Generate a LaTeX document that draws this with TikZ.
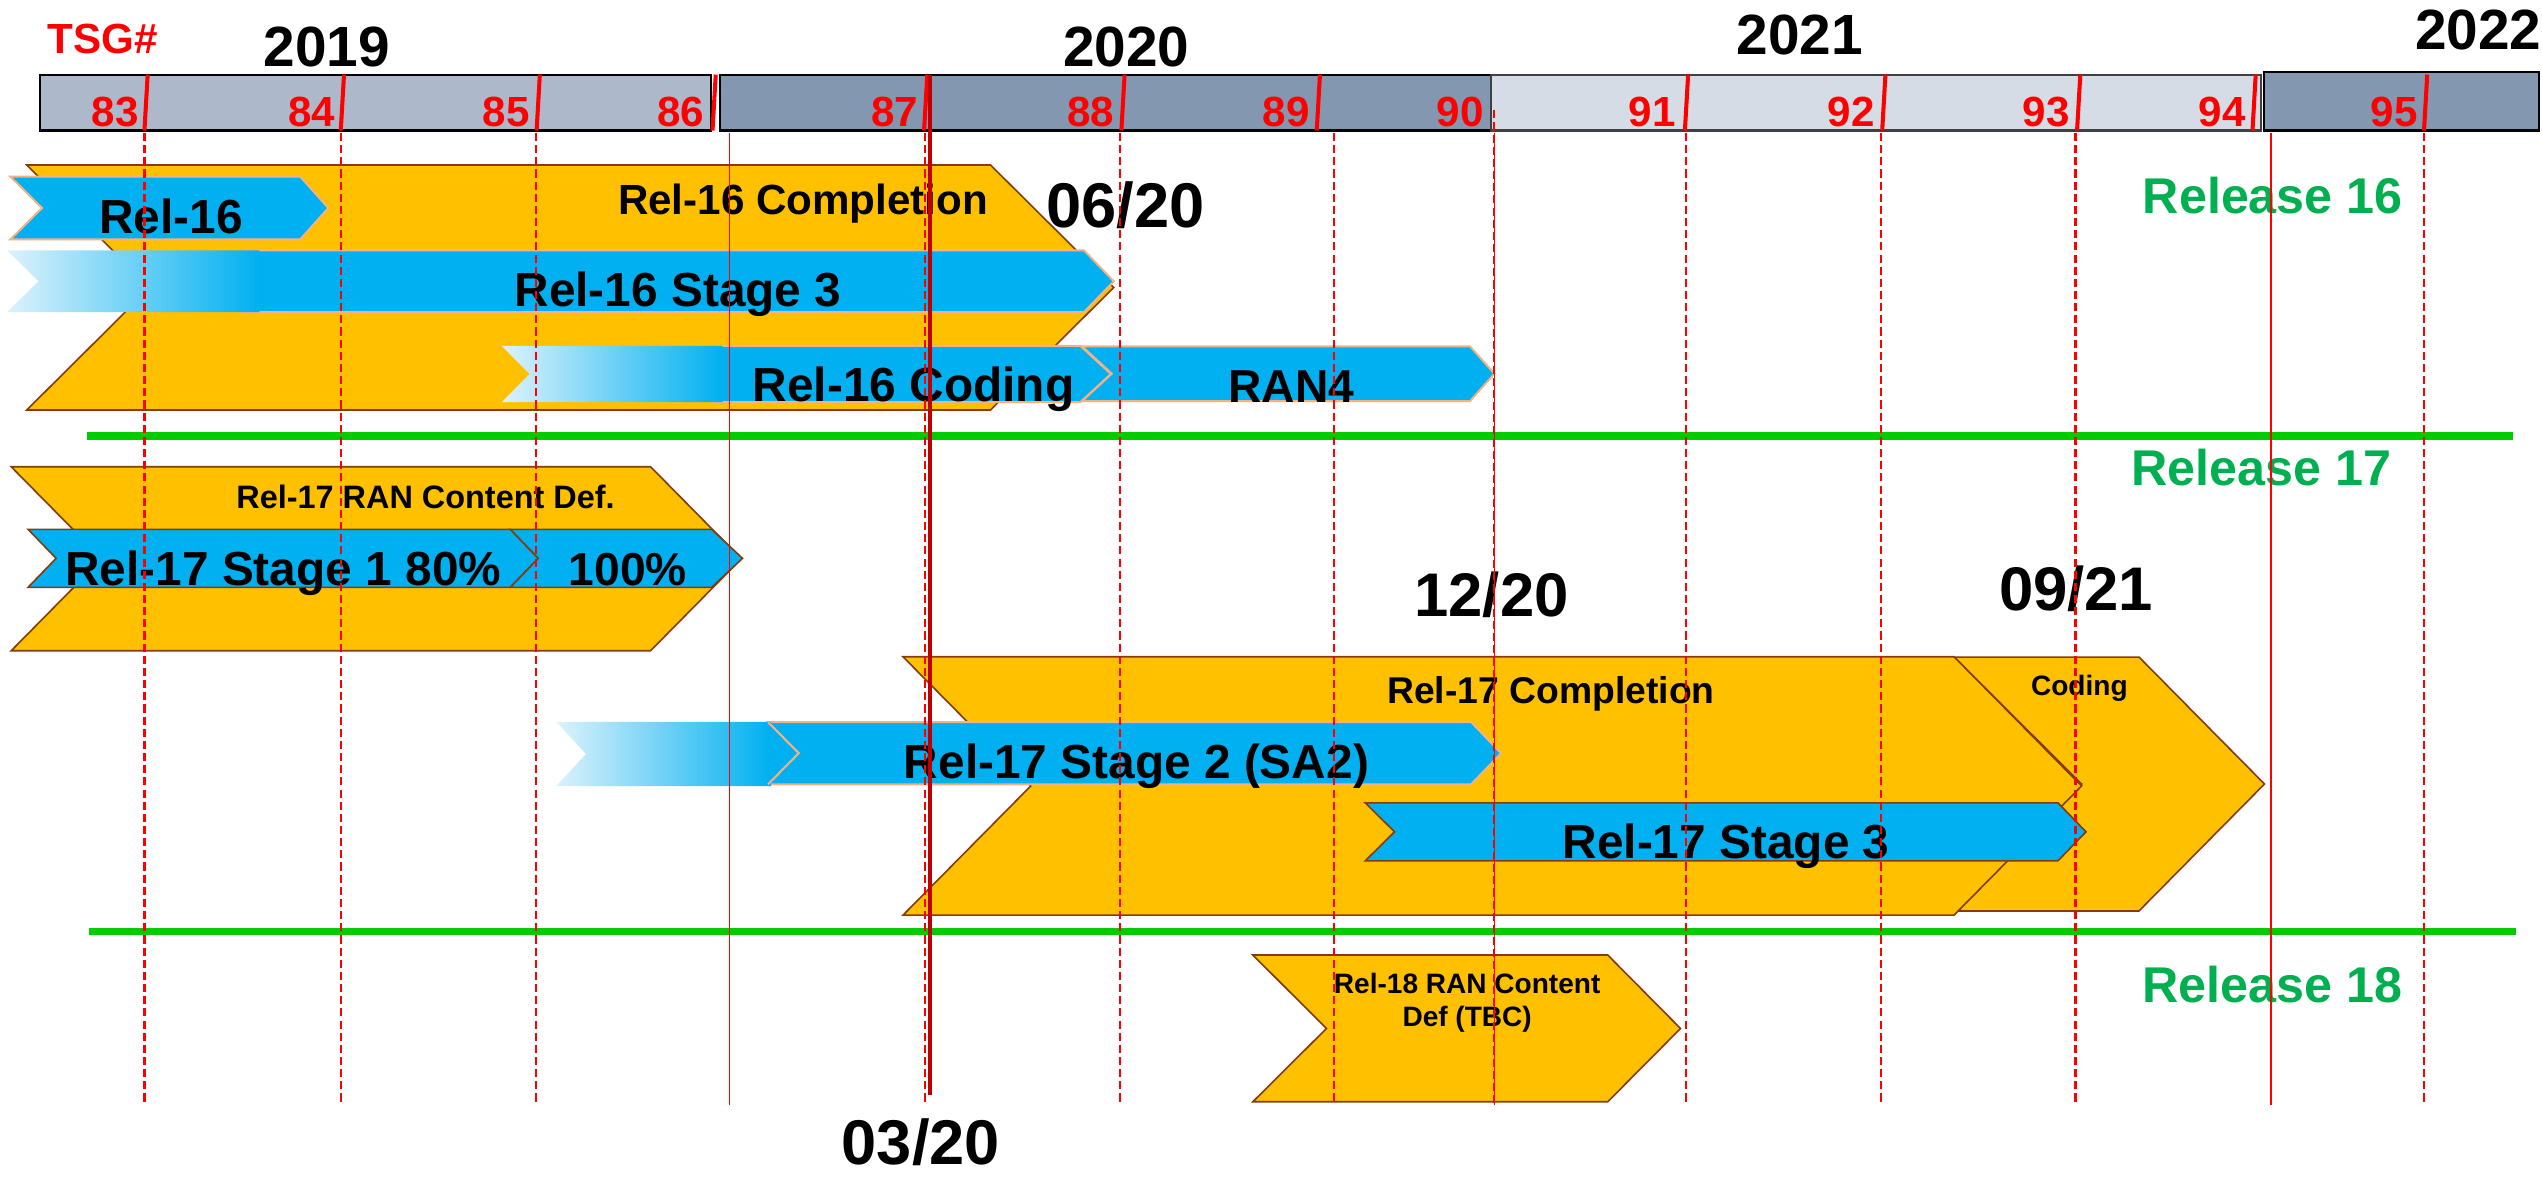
\documentclass[tikz,border=0pt]{standalone}
\usepackage{fontspec}
\setmainfont{Liberation Sans}
\definecolor{cblue}{HTML}{00B0F0}
\definecolor{cyel}{HTML}{FFC000}
\definecolor{cbrown}{HTML}{843C0C}
\definecolor{corange}{HTML}{F4B183}
\definecolor{cfade}{HTML}{DDF2FC}
\definecolor{cseg1}{HTML}{ADB9CA}
\definecolor{cseg2}{HTML}{8497B0}
\definecolor{cseg3}{HTML}{D6DCE5}
\definecolor{cred}{HTML}{FF0000}
\definecolor{cdred}{HTML}{C00000}
\definecolor{cgline}{HTML}{00CC00}
\definecolor{cgtext}{HTML}{00B050}
\begin{document}
\begin{tikzpicture}[x=1pt,y=-1pt,
  yelshape/.style={fill=cyel, draw=cbrown, line width=1pt},
  blueshape/.style={fill=cblue, draw=corange, line width=1.2pt},
  blueshapeb/.style={fill=cblue, draw=cbrown, line width=1pt},
  fadeshape/.style={left color=cfade, middle color=cblue, right color=cblue, draw=none},
  seg/.style={draw=black, line width=1.3pt},
  bartick/.style={draw=cred, line width=2.5pt},
  vdash/.style={draw=cred, line width=1.3pt, dash pattern=on 5pt off 2.5pt},
  vsolid/.style={draw=cred, line width=1.1pt},
  vthick/.style={draw=cdred, line width=2.8pt},
  gline/.style={draw=cgline, line width=4.5pt},
  lbl/.style={inner sep=0pt, anchor=base, font=\bfseries\fontsize{29.5}{32}\selectfont},
  mlbl/.style={inner sep=0pt, anchor=base, font=\bfseries\fontsize{23}{26}\selectfont},
  slbl/.style={inner sep=0pt, anchor=base, font=\bfseries\fontsize{20}{23}\selectfont},
  tlbl/.style={inner sep=0pt, anchor=base, font=\bfseries\fontsize{17.3}{20}\selectfont},
  datelbl/.style={inner sep=0pt, anchor=base, font=\bfseries\fontsize{39}{42}\selectfont},
  yearlbl/.style={inner sep=0pt, anchor=base, font=\bfseries\fontsize{35}{38}\selectfont},
  numlbl/.style={inner sep=0pt, anchor=base east, text=cred, font=\bfseries\fontsize{26}{28}\selectfont},
  rellbl/.style={inner sep=0pt, anchor=base, text=cgtext, font=\bfseries\fontsize{31}{34}\selectfont}]
\useasboundingbox (0,0) rectangle (1568,725.4);

% ---- timeline bar ----
\draw[seg, fill=cseg1] (24.8,46) rectangle (438.7,80.5);
\draw[seg, fill=cseg2] (444,46) rectangle (919.8,80.5);
\draw[seg, fill=cseg3, draw=black!75] (919.8,46) rectangle (1394.8,80.5);
\draw[seg, fill=cseg2] (1396.7,44.5) rectangle (1566.3,80.5);
\foreach \tx in {89.1,210.2,331,439.5,570,691.7,812.2,1039.3,1161,1281.2,1389.4,1495.2}
  \draw[bartick] (\tx,80.5) -- (\tx+2,46);

\node[numlbl] (n83) at (85.7,78.3) {83};
\node[numlbl] (n84) at (207,78.3) {84};
\node[numlbl] (n85) at (327,78.3) {85};
\node[numlbl] (n86) at (434.6,78.3) {86};
\node[numlbl] (n87) at (566.7,78.3) {87};
\node[numlbl] (n88) at (687.6,78.3) {88};
\node[numlbl] (n89) at (808,78.3) {89};
\node[numlbl] (n90) at (915.5,78.3) {90};
\node[numlbl] (n91) at (1033.8,78.3) {91};
\node[numlbl] (n92) at (1156.6,78.3) {92};
\node[numlbl] (n93) at (1276.8,78.3) {93};
\node[numlbl] (n94) at (1385.4,78.3) {94};
\node[numlbl] (n95) at (1491.4,78.3) {95};

\node[inner sep=0pt, anchor=base, text=cred, font=\bfseries\fontsize{26}{28}\selectfont] (tsg) at (63.3,33.3) {TSG\#};
\node[yearlbl] (y2019) at (201.5,41.1) {2019};
\node[yearlbl] (y2020) at (694.8,41) {2020};
\node[yearlbl] (y2021) at (1110.2,33.9) {2021};
\node[yearlbl] (y2022) at (1528.7,30.8) {2022};

% ---- Release 16 ----
\draw[yelshape] (16.5,101.8) -- (611,101.8) -- (687,177.35) -- (611,252.9) -- (16.5,252.9) -- (92.5,177.35) -- cycle;
\draw[blueshape] (6.5,109) -- (185.2,109) -- (202.5,128.3) -- (185.2,147.6) -- (6.5,147.6) -- (26,128.3) -- cycle;
\draw[blueshape] (150,154.4) -- (668.6,154.4) -- (687,173.5) -- (668.6,192.5) -- (150,192.5) -- cycle;
\path[fadeshape] (4.3,154.4) -- (160,154.4) -- (160,192.5) -- (4.3,192.5) -- (23.8,173.5) -- cycle;
\draw[blueshape] (440,213.3) -- (666.3,213.3) -- (685.2,230.7) -- (666.3,248.1) -- (440,248.1) -- cycle;
\path[fadeshape] (309.4,213.3) -- (445.8,213.3) -- (445.8,248.1) -- (309.4,248.1) -- (326.7,230.7) -- cycle;
\draw[blueshape] (667.5,213.6) -- (906.7,213.6) -- (921.8,230.5) -- (906.7,247.4) -- (667.5,247.4) -- (685.8,230.5) -- cycle;

\node[mlbl, font=\bfseries\fontsize{26}{28}\selectfont] (r16c) at (495.4,132.6) {Rel-16 Completion};
\node[lbl] (r16) at (105.6,144) {Rel-16};
\node[lbl] (r16s3) at (418.2,189.2) {Rel-16 Stage 3};
\node[lbl] (r16cod) at (563.5,247.8) {Rel-16 Coding};
\node[lbl, font=\bfseries\fontsize{28.5}{31}\selectfont] (ran4) at (796.5,248.4) {RAN4};
\node[datelbl] (d0620) at (694.1,140.2) {06/20};
\node[rellbl] (rel16) at (1401.9,131.6) {Release 16};

% ---- Release 17 ----
\draw[yelshape] (6.9,287.9) -- (401.3,287.9) -- (457.3,344.65) -- (401.3,401.4) -- (6.9,401.4) -- (62.9,344.65) -- cycle;
\draw[blueshapeb] (17.3,326.5) -- (314.8,326.5) -- (332,344.4) -- (314.8,362.3) -- (17.3,362.3) -- (34.6,344.4) -- cycle;
\draw[blueshapeb] (314.8,326.5) -- (439,326.5) -- (458,344.4) -- (439,362.3) -- (314.8,362.3) -- (332,344.4) -- cycle;
\node[slbl] (r17rcd) at (262.5,313.6) {Rel-17 RAN Content Def.};
\node[lbl] (r17s1) at (174.7,360.9) {Rel-17 Stage 1 80\%};
\node[lbl, font=\bfseries\fontsize{28.5}{31}\selectfont] (r17p) at (387.2,360.9) {100\%};

\draw[yelshape] (1205.3,405.3) -- (1319.4,405.3) -- (1396.8,483.6) -- (1319.4,561.9) -- (1205.3,561.9) -- (1284,483.6) -- cycle;
\draw[yelshape] (557,405.1) -- (1205.3,405.1) -- (1284,484.8) -- (1205.3,564.5) -- (557,564.5) -- (635.8,484.8) -- cycle;
\draw[blueshape] (473.7,445.4) -- (907.4,445.4) -- (925.9,464.6) -- (907.4,483.8) -- (473.7,483.8) -- (492.6,464.6) -- cycle;
\path[fadeshape] (343,445.2) -- (475.6,445.2) -- (475.6,484.9) -- (343,484.9) -- (361.5,465.1) -- cycle;
\draw[blueshape] (473.7,445.4) -- (492.6,464.6) -- (473.7,483.8);
\draw[blueshapeb] (842.1,495.2) -- (1269.4,495.2) -- (1286.7,513.1) -- (1269.4,531) -- (842.1,531) -- (860.2,513.1) -- cycle;

\node[mlbl] (r17c) at (956.7,433.9) {Rel-17 Completion};
\node[tlbl] (cod) at (1282.6,428.8) {Coding};
\node[lbl] (r17s2) at (701,480.2) {Rel-17 Stage 2 (SA2)};
\node[lbl] (r17s3) at (1064.7,529.5) {Rel-17 Stage 3};
\node[datelbl, font=\bfseries\fontsize{38}{41}\selectfont] (d1220) at (920,380.4) {12/20};
\node[datelbl, font=\bfseries\fontsize{38}{41}\selectfont] (d0921) at (1280.6,376.3) {09/21};
\node[rellbl] (rel17) at (1395,299.2) {Release 17};

% ---- Release 18 ----
\draw[yelshape] (772.8,589.1) -- (991.7,589.1) -- (1036.6,634.4) -- (991.7,679.6) -- (772.8,679.6) -- (818.2,634.4) -- cycle;
\node[tlbl] (r18a) at (905,612.8) {Rel-18 RAN Content};
\node[tlbl] (r18b) at (905,633.4) {Def (TBC)};
\node[rellbl] (rel18) at (1401.5,618.6) {Release 18};
\node[datelbl] (d0320) at (568,718.5) {03/20};

% ---- green release separators ----
\draw[gline] (53.5,269) -- (1550,269);
\draw[gline] (55,574.7) -- (1551.8,574.7);

% ---- vertical meeting lines ----
\foreach \vx in {89.1,210.2,330.4,570.7,690.7,822.8,1040,1160.2,1280.2,1495}
  \draw[vdash] (\vx,82) -- (\vx,681.7);
\draw[vdash] (921.5,68) -- (921.5,681.7);
\foreach \vx in {450,921.8,1400.8}
  \draw[vsolid] (\vx,82) -- (\vx,681.7);
\draw[vthick] (573.6,46) -- (573.6,675.5);
\end{tikzpicture}
\end{document}
